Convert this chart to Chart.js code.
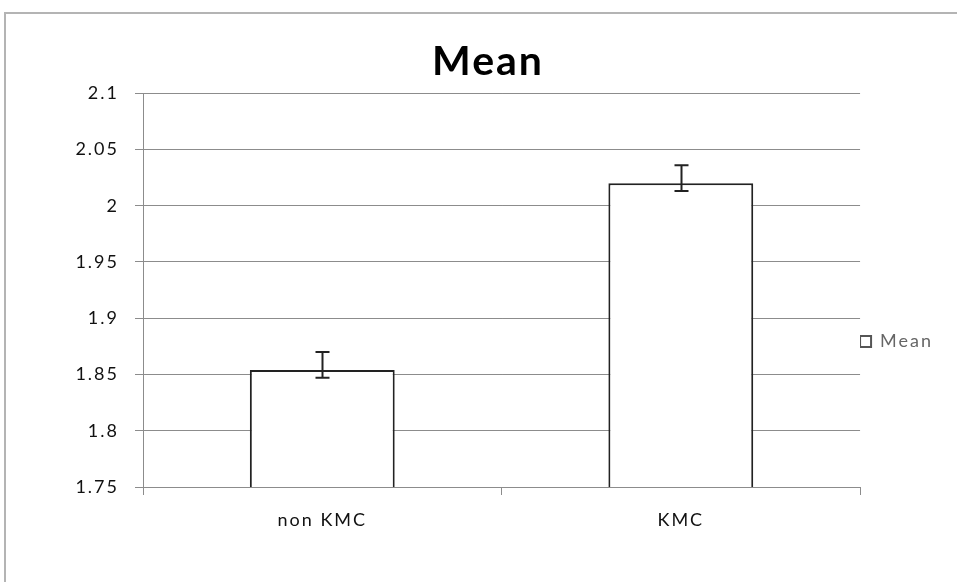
<!DOCTYPE html>
<html>
<head>
<meta charset="utf-8">
<script src="https://cdn.jsdelivr.net/npm/chart.js@4"></script>
<style>
  html, body { margin: 0; padding: 0; background: #fff; }
  #wrap { position: relative; width: 957px; height: 582px; }
</style>
</head>
<body>
<div id="wrap"><canvas id="meanChart" width="957" height="582"></canvas></div>
<script>
const categories = ['non KMC', 'KMC'];
const meanValues = [1.854, 2.020];
const errPlus = [0.016, 0.016];
const errMinus = [0.007, 0.007];
const yMin = 1.75;
const yMax = 2.1;
const yStep = 0.05;

const FONT = 'Lato, "Open Sans", sans-serif';

// grey frame round the chart, as in the spreadsheet export
// (also widens the letter spacing, the original text is spread out)
const framePlugin = {
    id: 'frame',
    beforeDraw(c) {
        const ctx = c.ctx;
        ctx.letterSpacing = '2px';
        ctx.save();
        ctx.strokeStyle = '#b4b4b4';
        ctx.lineWidth = 2;
        ctx.strokeRect(5, 13, 1100, 1000);
        ctx.restore();
    }
};

// asymmetric error bars taken from errPlus / errMinus
const errorBarPlugin = {
    id: 'errorBars',
    afterDatasetsDraw(c) {
        const ctx = c.ctx;
        const yScale = c.scales.y;
        const meta = c.getDatasetMeta(0);
        ctx.save();
        ctx.strokeStyle = '#222';
        ctx.lineWidth = 2;
        meta.data.forEach((bar, i) => {
            const x = Math.round(bar.x) + 0.5;
            const top = yScale.getPixelForValue(meanValues[i] + errPlus[i]);
            const bot = yScale.getPixelForValue(meanValues[i] - errMinus[i]);
            ctx.beginPath();
            ctx.moveTo(x, top); ctx.lineTo(x, bot);
            ctx.moveTo(x - 7, top); ctx.lineTo(x + 7, top);
            ctx.moveTo(x - 7, bot); ctx.lineTo(x + 7, bot);
            ctx.stroke();
        });
        ctx.restore();
    }
};

new Chart(document.getElementById('meanChart'), {
    type: 'bar',
    data: {
        labels: categories,
        datasets: [{
            label: 'Mean',
            data: meanValues,
            backgroundColor: '#ffffff',
            borderColor: '#222',
            borderWidth: 2,
            borderSkipped: false,
            categoryPercentage: 1,
            barPercentage: 0.404
        }]
    },
    options: {
        responsive: false,
        animation: false,
        layout: { padding: { left: 41, right: 22, top: 0, bottom: 0 } },
        plugins: {
            title: {
                display: true,
                text: 'Mean',
                color: '#000',
                font: { family: FONT, size: 41, weight: 'bold' },
                padding: { top: 37, bottom: 7 }
            },
            legend: {
                position: 'right',
                title: { display: true, text: '', font: { size: 1 }, padding: { top: 100, bottom: 0 } },
                labels: {
                    color: '#111',
                    font: { family: FONT, size: 18 },
                    boxWidth: 11,
                    boxHeight: 11,
                    padding: 0,
                    generateLabels: () => [{
                        text: 'Mean', fillStyle: '#fff', strokeStyle: '#555', lineWidth: 2, datasetIndex: 0
                    }]
                }
            },
            tooltip: { enabled: false }
        },
        scales: {
            x: {
                afterFit: s => { s.height = 95; },
                grid: { offset: true, drawOnChartArea: false, drawTicks: true, tickLength: 8, color: '#8c8c8c' },
                border: { color: '#8c8c8c', width: 1 },
                ticks: { color: '#111', font: { family: FONT, size: 18 }, padding: 14 }
            },
            y: {
                min: yMin,
                max: yMax,
                afterFit: s => { s.width = 102; },
                grid: { color: '#8c8c8c', tickLength: 8 },
                border: { color: '#8c8c8c', width: 1 },
                ticks: {
                    stepSize: yStep,
                    color: '#111',
                    font: { family: FONT, size: 18 },
                    padding: 16,
                    callback: v => String(+v.toFixed(2))
                }
            }
        }
    },
    plugins: [framePlugin, errorBarPlugin]
});
</script>
</body>
</html>
